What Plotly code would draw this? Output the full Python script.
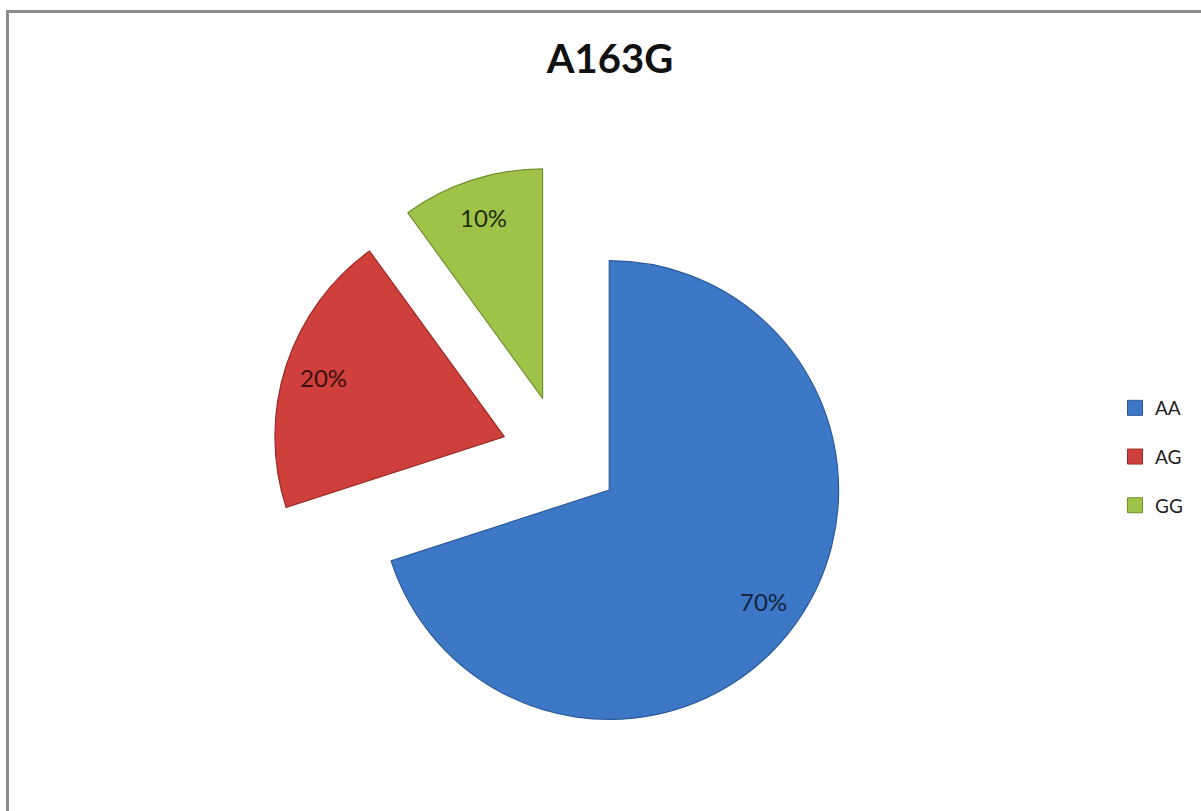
import math
import plotly.graph_objects as go

title_text = "A163G"
labels = ["AA", "AG", "GG"]
values = [70, 20, 10]
colors = ["#3D78C6", "#CF403C", "#9FC349"]
edge_colors = ["#2B5A99", "#9A2A27", "#728F2E"]
text_colors = ["#14233F", "#3A0E0C", "#1F2A10"]
pulls = [0.26, 0.26, 0.26]

W, H = 1201, 811
FONT = "Lato"

# pie box (pixels) -> paper domain
box_l, box_r, box_t, box_b = 272, 850, 166, 744
dom_x = [box_l / W, box_r / W]
dom_y = [1 - box_b / H, 1 - box_t / H]

fig = go.Figure()

fig.add_trace(go.Pie(
    labels=labels,
    values=values,
    sort=False,
    direction="clockwise",
    rotation=0,
    pull=pulls,
    marker=dict(colors=colors, line=dict(color=edge_colors, width=1.2)),
    textinfo="none",
    showlegend=False,
    domain=dict(x=dom_x, y=dom_y),
    hoverinfo="label+percent",
))

# percentage labels placed like the original (outer part of each slice),
# derived from the values and the pie geometry
cx = (box_l + box_r) / 2
cy = (box_t + box_b) / 2
r = min(box_r - box_l, box_b - box_t) / 2 / (1 + max(pulls))
total = sum(values)
annotations = []
cum = 0
for lab, v, p, tc in zip(labels, values, pulls, text_colors):
    theta = math.radians(360 * (cum + v / 2) / total)
    cum += v
    d = (p + 0.83) * r
    px = cx + d * math.sin(theta)
    py = cy - d * math.cos(theta)
    annotations.append(dict(
        x=px / W, y=1 - py / H, xref="paper", yref="paper",
        text=f"{round(100 * v / total)}%", showarrow=False,
        xanchor="center", yanchor="middle",
        font=dict(family=FONT, size=24, color=tc),
    ))

# legend entries (one per category, so they can be spaced like the original)
for lab, col, ec in zip(labels, colors, edge_colors):
    fig.add_trace(go.Scatter(
        x=[None], y=[None], mode="markers", name=lab, legendgroup=lab,
        marker=dict(symbol="square", size=15, color=col, line=dict(color=ec, width=1)),
        showlegend=True, hoverinfo="skip",
    ))

fig.update_layout(
    width=W, height=H,
    margin=dict(l=0, r=0, t=0, b=0),
    paper_bgcolor="white",
    plot_bgcolor="white",
    title=dict(text="<b>" + title_text + "</b>", x=610 / W, xanchor="center",
               y=1 - 59 / H, yanchor="middle",
               font=dict(family=FONT, size=40, color="#111111")),
    xaxis=dict(visible=False),
    yaxis=dict(visible=False),
    legend=dict(x=1115 / W, xanchor="left", y=1 - 457 / H, yanchor="middle",
                font=dict(family=FONT, size=19, color="#222222"),
                tracegroupgap=21, bgcolor="rgba(0,0,0,0)", itemclick=False),
    annotations=annotations,
    shapes=[dict(type="rect", xref="paper", yref="paper",
                 x0=7.5 / W, x1=1.02, y0=-0.02, y1=1 - 11.5 / H,
                 line=dict(color="#8C8C8C", width=3), fillcolor="rgba(0,0,0,0)",
                 layer="above")],
)

fig.write_html("out.html", config={"displayModeBar": False},
               post_script="document.body.style.margin='0';")
